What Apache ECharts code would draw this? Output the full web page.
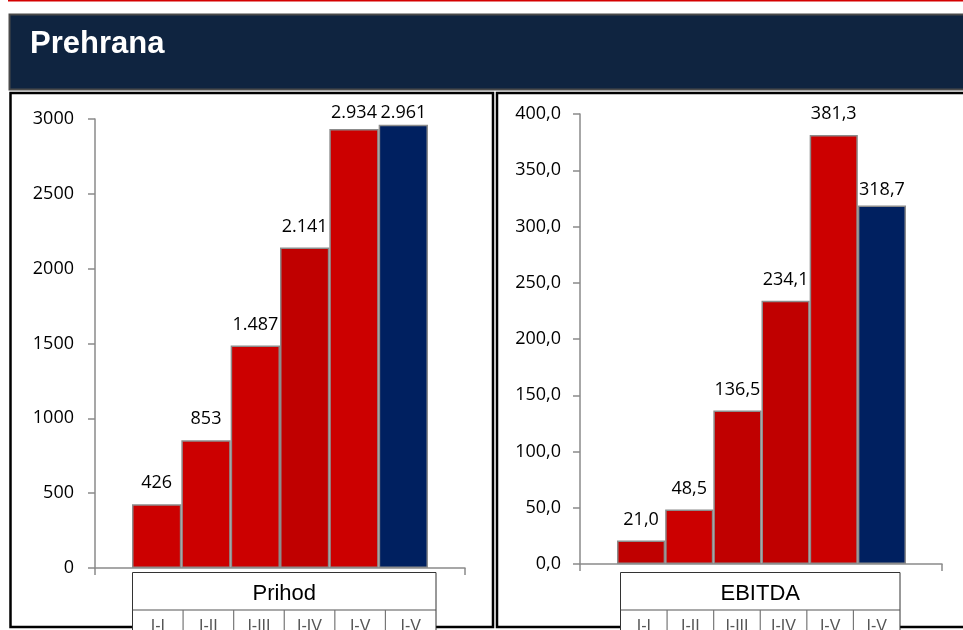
<!DOCTYPE html>
<html>
<head>
<meta charset="utf-8">
<script src="https://cdn.jsdelivr.net/npm/echarts@6/dist/echarts.min.js"></script>
<style>
html,body{margin:0;padding:0;background:#fff;}
#chart{width:963px;height:630px;}
</style>
</head>
<body>
<div id="chart"></div>
<script>
// ---- data ----
const pageTitle = 'Prehrana';
const categories = ['I-I', 'I-II', 'I-III', 'I-IV', 'I-V', 'I-V'];
const prihodTitle = 'Prihod';
const prihodValues = [426, 853, 1487, 2141, 2934, 2961];
const ebitdaTitle = 'EBITDA';
const ebitdaValues = [21.0, 48.5, 136.5, 234.1, 381.3, 318.7];
const prihodAxis = { min: 0, max: 3000, interval: 500 };
const ebitdaAxis = { min: 0, max: 400, interval: 50 };

// ---- styles ----
const RED = '#CC0000', DARKRED = '#C00000', NAVY = '#002060';
const prihodColors = [RED, RED, RED, DARKRED, RED, NAVY];
const ebitdaColors = [DARKRED, RED, DARKRED, DARKRED, RED, NAVY];
const prihodLabelGap = [12, 12, 12, 12, 7, 3];
const ebitdaLabelGap = [12, 12, 12, 12, 12, 7];
const NUM_FONT = '"Open Sans", "Noto Sans", sans-serif';
const TXT_FONT = '"Liberation Sans", Arial, sans-serif';

function fmtThousands(v) {
  if (v >= 1000) return Math.floor(v / 1000) + '.' + String(v % 1000).padStart(3, '0');
  return String(v);
}
function fmtComma(v) { return Number(v).toFixed(1).replace('.', ','); }

const panels = [
  { title: prihodTitle, values: prihodValues, colors: prihodColors, gaps: prihodLabelGap, axis: prihodAxis,
    barLeft: 132, barWidth: 296, axisLeft: 95, axisWidth: 370, top: 119, height: 449,
    fmt: fmtThousands, axisFmt: v => String(v), labelMargin: 21,
    tableLeft: 132.5, tableWidth: 303.5 },
  { title: ebitdaTitle, values: ebitdaValues, colors: ebitdaColors, gaps: ebitdaLabelGap, axis: ebitdaAxis,
    barLeft: 617, barWidth: 289, axisLeft: 580, axisWidth: 362, top: 114, height: 450,
    fmt: fmtComma, axisFmt: fmtComma, labelMargin: 19,
    tableLeft: 620.5, tableWidth: 279.5 }
];

const grid = [], xAxis = [], yAxis = [], series = [];
const graphic = [];
const AXIS_COLOR = '#8a8a8a';

// background frame
graphic.push({ type: 'rect', z: 1, shape: { x: 8, y: 0, width: 960, height: 1.6 }, style: { fill: '#d40000' } });
graphic.push({ type: 'rect', z: 1, shape: { x: 9.5, y: 14.5, width: 960, height: 75 }, style: { fill: '#0f2440', stroke: '#4a4a4a', lineWidth: 2 } });
graphic.push({ type: 'text', z: 2, x: 30, y: 44, style: { text: pageTitle, font: 'bold 31px ' + TXT_FONT, fill: '#ffffff', textVerticalAlign: 'middle' } });
graphic.push({ type: 'rect', z: 1, shape: { x: 10.5, y: 93, width: 482.5, height: 534 }, style: { fill: 'none', stroke: '#000', lineWidth: 2.5 } });
graphic.push({ type: 'rect', z: 1, shape: { x: 497, y: 93, width: 480, height: 534 }, style: { fill: 'none', stroke: '#000', lineWidth: 2.5 } });

panels.forEach((p, i) => {
  const gb = i * 2, ga = i * 2 + 1;
  grid.push({ left: p.barLeft, top: p.top, width: p.barWidth, height: p.height });
  grid.push({ left: p.axisLeft, top: p.top, width: p.axisWidth, height: p.height });
  xAxis.push({ type: 'category', gridIndex: gb, data: categories, show: false });
  xAxis.push({ type: 'value', gridIndex: ga, min: 0, max: 1, interval: 1,
    axisLine: { show: true, lineStyle: { color: AXIS_COLOR, width: 1.5 } },
    axisTick: { show: true, length: 7, lineStyle: { color: AXIS_COLOR, width: 1.5 } },
    axisLabel: { show: false }, splitLine: { show: false } });
  yAxis.push({ type: 'value', gridIndex: gb, min: p.axis.min, max: p.axis.max, show: false, splitLine: { show: false } });
  yAxis.push({ type: 'value', gridIndex: ga, min: p.axis.min, max: p.axis.max, interval: p.axis.interval,
    axisLine: { show: true, lineStyle: { color: AXIS_COLOR, width: 1.5 } },
    axisTick: { show: true, length: 7, lineStyle: { color: AXIS_COLOR, width: 1.5 } },
    axisLabel: { show: true, margin: p.labelMargin, color: '#000', fontSize: 18, fontFamily: NUM_FONT, formatter: p.axisFmt },
    splitLine: { show: false } });
  series.push({
    type: 'bar', xAxisIndex: gb, yAxisIndex: gb, barCategoryGap: '0%',
    data: p.values.map((v, k) => ({ value: v, itemStyle: { color: p.colors[k] }, label: { distance: p.gaps[k] } })),
    itemStyle: { borderColor: '#8c8c8c', borderWidth: 1.5 },
    label: { show: true, position: 'top', distance: 12, color: '#000', fontSize: 18, fontFamily: NUM_FONT,
      formatter: prm => p.fmt(prm.value) },
    emphasis: { disabled: true }, animation: false
  });

  // data table below axis
  const tx = p.tableLeft, tw = p.tableWidth, ty = 572.5, rowY = 610;
  graphic.push({ type: 'rect', z: 5, shape: { x: tx, y: ty, width: tw, height: 80 }, style: { fill: '#fff', stroke: '#333', lineWidth: 1 } });
  graphic.push({ type: 'line', z: 6, shape: { x1: tx, y1: rowY, x2: tx + tw, y2: rowY }, style: { stroke: '#555', lineWidth: 1.2 } });
  graphic.push({ type: 'text', z: 6, x: tx + tw / 2, y: 594, style: { text: p.title, font: '22px ' + TXT_FONT, fill: '#000', textAlign: 'center', textVerticalAlign: 'middle' } });
  const cw = tw / categories.length;
  categories.forEach((c, k) => {
    if (k > 0) graphic.push({ type: 'line', z: 6, shape: { x1: tx + cw * k, y1: rowY, x2: tx + cw * k, y2: 640 }, style: { stroke: '#777', lineWidth: 1.2 } });
    graphic.push({ type: 'text', z: 6, x: tx + cw * k + cw / 2, y: 619, style: { text: c, font: '16px ' + TXT_FONT, fill: '#555', textAlign: 'center', textVerticalAlign: 'top' } });
  });
});

const chart = echarts.init(document.getElementById('chart'), null, { renderer: 'canvas' });
chart.setOption({
  backgroundColor: '#fff',
  animation: false,
  grid, xAxis, yAxis, series,
  graphic: { elements: graphic }
});
</script>
</body>
</html>
